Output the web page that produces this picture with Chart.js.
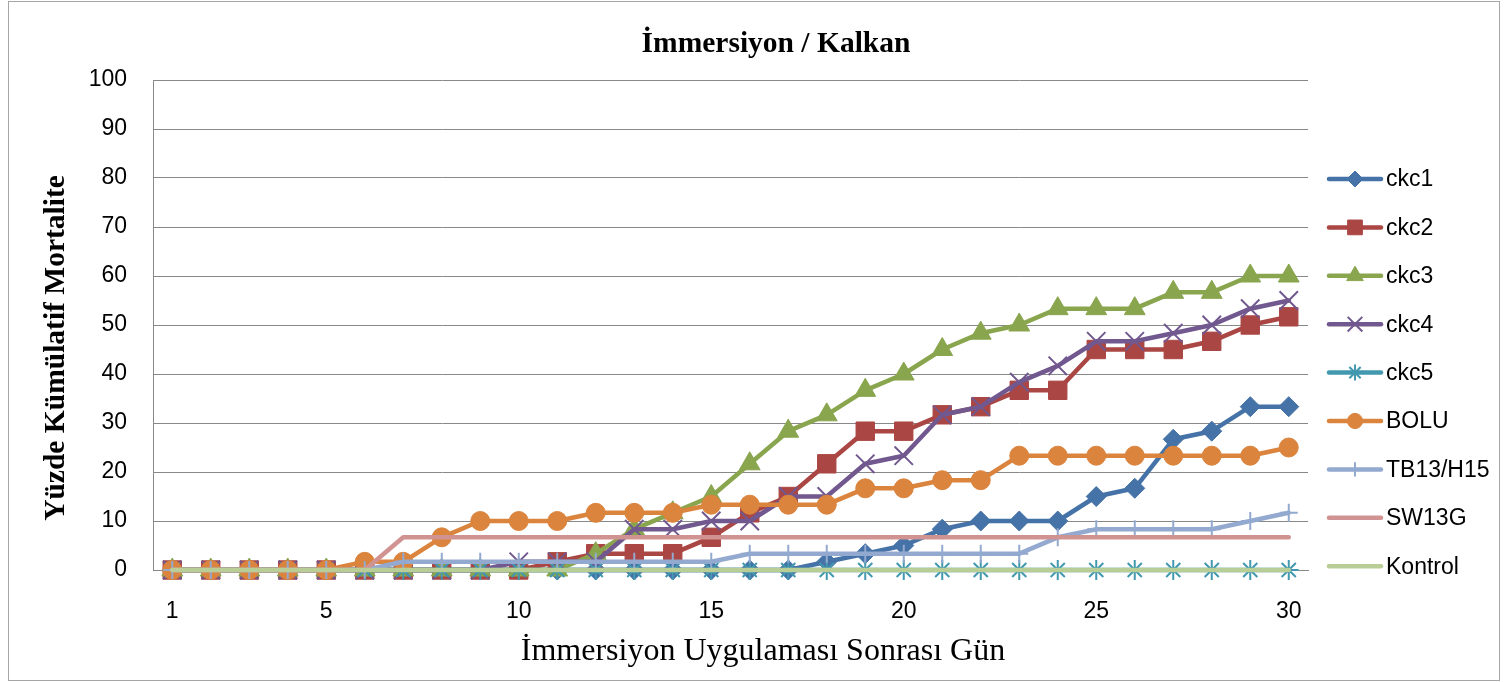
<!DOCTYPE html>
<html><head><meta charset="utf-8">
<script src="https://cdn.jsdelivr.net/npm/chart.js@4.4.0/dist/chart.umd.min.js"></script>
<style>html,body{margin:0;padding:0;background:#fff;overflow:hidden}canvas{display:block}</style>
</head><body>
<canvas id="c" width="1506" height="682"></canvas>
<script>
const days = ['1','2','3','4','5','6','7','8','9','10','11','12','13','14','15','16','17','18','19','20','21','22','23','24','25','26','27','28','29','30'];
const tickLabels = ['1','5','10','15','20','25','30'];
const yTicks = [0,10,20,30,40,50,60,70,80,90,100];

const ckc1 = [0,0,0,0,0,0,0,0,0,0,0,0,0,0,0,0,0,1.67,3.33,5,8.33,10,10,10,15,16.67,26.67,28.33,33.33,33.33];
const ckc2 = [0,0,0,0,0,0,0,0,0,0,1.67,3.33,3.33,3.33,6.67,11.67,15,21.67,28.33,28.33,31.67,33.33,36.67,36.67,45,45,45,46.67,50,51.67];
const ckc3 = [0,0,0,0,0,0,0,0,0,0,0,3.33,8.33,11.67,15,21.67,28.33,31.67,36.67,40,45,48.33,50,53.33,53.33,53.33,56.67,56.67,60,60];
const ckc4 = [0,0,0,0,0,0,0,0,0,1.67,1.67,1.67,8.33,8.33,10,10,15,15,21.67,23.33,31.67,33.33,38.33,41.67,46.67,46.67,48.33,50,53.33,55];
const ckc5 = [0,0,0,0,0,0,0,0,0,0,0,0,0,0,0,0,0,0,0,0,0,0,0,0,0,0,0,0,0,0];
const bolu = [0,0,0,0,0,1.67,1.67,6.67,10,10,10,11.67,11.67,11.67,13.33,13.33,13.33,13.33,16.67,16.67,18.33,18.33,23.33,23.33,23.33,23.33,23.33,23.33,23.33,25];
const tb13 = [0,0,0,0,0,0,1.67,1.67,1.67,1.67,1.67,1.67,1.67,1.67,1.67,3.33,3.33,3.33,3.33,3.33,3.33,3.33,3.33,6.67,8.33,8.33,8.33,8.33,10,11.67];
const sw13g = [0,0,0,0,0,0,6.67,6.67,6.67,6.67,6.67,6.67,6.67,6.67,6.67,6.67,6.67,6.67,6.67,6.67,6.67,6.67,6.67,6.67,6.67,6.67,6.67,6.67,6.67,6.67];
const kontrol = [0,0,0,0,0,0,0,0,0,0,0,0,0,0,0,0,0,0,0,0,0,0,0,0,0,0,0,0,0,0];

const seriesNames = ['ckc1','ckc2','ckc3','ckc4','ckc5','BOLU','TB13/H15','SW13G','Kontrol'];
const seriesData = [ckc1, ckc2, ckc3, ckc4, ckc5, bolu, tb13, sw13g, kontrol];
const seriesColors = ['#4572A7','#AA4643','#89A54E','#71588F','#4198AF','#DB843D','#93A9CF','#D19392','#B9CD96'];
const seriesMarkers = ['rectRot','rect','triangle','crossRot','star','circle','cross',false,false];
const markerRadius = [10,13,12,13,10,9.5,9,0,0];
const markerBorder = [1,1,1,2,2,1,2,0,0];

const titleText = 'İmmersiyon / Kalkan';
const xTitleText = 'İmmersiyon Uygulaması Sonrası Gün';
const yTitleText = 'Yüzde Kümülatif Mortalite';

const datasets = seriesNames.map((n, i) => ({
  label: n,
  data: seriesData[i],
  borderColor: seriesColors[i],
  backgroundColor: seriesColors[i],
  borderWidth: 4.5,
  borderJoinStyle: 'round',
  borderCapStyle: 'round',
  pointStyle: seriesMarkers[i],
  pointRadius: markerRadius[i],
  pointHoverRadius: markerRadius[i],
  pointBorderWidth: markerBorder[i],
  pointBackgroundColor: seriesColors[i],
  pointBorderColor: seriesColors[i],
  tension: 0,
  fill: false,
  clip: false,
  order: seriesNames.length - i
}));

function drawMarker(ctx, style, r, bw, color, x, y) {
  if (!style) return;
  ctx.save();
  if (Chart.helpers && Chart.helpers.drawPoint) {
    ctx.fillStyle = color; ctx.strokeStyle = color; ctx.lineWidth = bw;
    Chart.helpers.drawPoint(ctx, {pointStyle: style, radius: r, rotation: 0, borderWidth: bw}, x, y);
  }
  ctx.restore();
}

const deco = {
  id: 'deco',
  beforeDraw(chart) {
    const ctx = chart.ctx;
    ctx.save();
    ctx.fillStyle = '#fff';
    ctx.fillRect(0, 0, chart.width, chart.height);
    ctx.strokeStyle = '#a6a6a6';
    ctx.lineWidth = 1;
    ctx.strokeRect(8.5, 1.5, 1491, 679);
    ctx.restore();
  },
  afterDraw(chart) {
    const ctx = chart.ctx;
    ctx.save();
    ctx.fillStyle = '#000';
    ctx.textAlign = 'center';
    ctx.textBaseline = 'alphabetic';
    ctx.font = 'bold 29.5px "Liberation Serif", "Times New Roman", serif';
    ctx.fillText(titleText, 776, 52);
    ctx.font = '32px "Liberation Serif", "Times New Roman", serif';
    ctx.fillText(xTitleText, 763, 660);
    ctx.save();
    ctx.translate(64, 348);
    ctx.rotate(-Math.PI / 2);
    ctx.font = 'bold 29.5px "Liberation Serif", "Times New Roman", serif';
    ctx.fillText(yTitleText, 0, 0);
    ctx.restore();
    // legend
    ctx.font = '23px "Liberation Sans", Arial, sans-serif';
    ctx.textAlign = 'left';
    ctx.textBaseline = 'middle';
    seriesNames.forEach((n, i) => {
      const y = 179 + i * 48.4;
      ctx.save();
      ctx.strokeStyle = seriesColors[i];
      ctx.lineWidth = 4.5;
      ctx.lineCap = 'round';
      ctx.beginPath(); ctx.moveTo(1329, y); ctx.lineTo(1381, y); ctx.stroke();
      ctx.restore();
      drawMarker(ctx, seriesMarkers[i], markerRadius[i] * 0.8, markerBorder[i], seriesColors[i], 1355, y);
      ctx.fillStyle = '#000';
      ctx.fillText(n, 1386, y + 1);
    });
    ctx.restore();
  }
};

new Chart(document.getElementById('c'), {
  type: 'line',
  data: { labels: days, datasets },
  plugins: [deco],
  options: {
    responsive: false,
    animation: false,
    devicePixelRatio: 1,
    layout: { padding: { left: 0, right: 198, top: 80, bottom: 0 } },
    plugins: { legend: { display: false }, title: { display: false }, tooltip: { enabled: false } },
    scales: {
      x: {
        type: 'category',
        offset: true,
        grid: { display: false, drawTicks: false },
        border: { display: true, color: '#888', width: 1 },
        ticks: {
          autoSkip: false, maxRotation: 0, minRotation: 0, padding: 28,
          color: '#000',
          font: { family: '"Liberation Sans", Arial, sans-serif', size: 23 },
          callback: function(v, idx) { const l = days[idx]; return tickLabels.includes(l) ? l : ''; }
        },
        afterFit(scale) { scale.height = 112; }
      },
      y: {
        min: 0, max: 100,
        afterBuildTicks(scale) { scale.ticks = yTicks.map(v => ({ value: v })); },
        grid: { color: '#888', lineWidth: 1, drawTicks: false },
        border: { display: true, color: '#888', width: 1 },
        ticks: {
          padding: 26, color: '#000',
          font: { family: '"Liberation Sans", Arial, sans-serif', size: 23 }
        },
        afterFit(scale) { scale.width = 153; }
      }
    }
  }
});
</script>
</body></html>
